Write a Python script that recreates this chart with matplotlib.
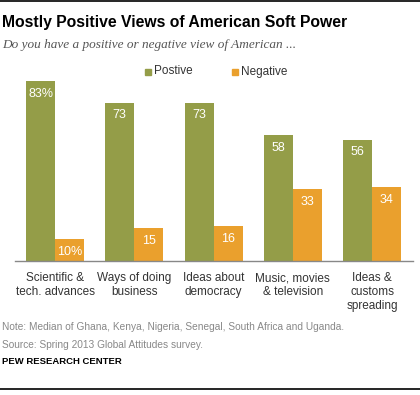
import numpy as np
import matplotlib
matplotlib.use("Agg")
from matplotlib import pyplot
from matplotlib.patches import Rectangle

categories = ["Scientific &\ntech. advances", "Ways of doing\nbusiness",
              "Ideas about\ndemocracy", "Music, movies\n& television",
              "Ideas &\ncustoms\nspreading"]
positive = [83, 73, 73, 58, 56]
negative = [10, 15, 16, 33, 34]
pos_labels = ["83%", "73", "73", "58", "56"]
neg_labels = ["10%", "15", "16", "33", "34"]

green = "#949D48"
orange = "#EAA02D"
W, H = 420, 395

pyplot.rcParams["font.family"] = ["Liberation Sans", "DejaVu Sans"]
fig = pyplot.figure(figsize=(W / 100, H / 100), dpi=100)

def px(x, y):
    return x / W, 1 - y / H

# plot area: baseline at y=261, value 83 at y=81
ax = fig.add_axes([15 / W, 1 - 261 / H, 398 / W, 180 / H])
xs = np.arange(len(categories))
bw = 0.366
ax.bar(xs - bw / 2, positive, bw, color=green)
ax.bar(xs + bw / 2, negative, bw, color=orange)
ax.set_ylim(0, 83)
ax.set_xlim(-0.505, 4.517)
for sp in ["top", "right", "left"]:
    ax.spines[sp].set_visible(False)
ax.spines["bottom"].set_color("#888888")
ax.spines["bottom"].set_linewidth(1)
ax.set_yticks([])
ax.set_xticks(xs)
ax.set_xticklabels(categories, fontsize=8.5, color="#333333", linespacing=1.2)
ax.tick_params(axis="x", length=0, pad=8)

for i in range(len(xs)):
    ax.text(xs[i] - bw / 2, positive[i] - 3, pos_labels[i], ha="center", va="top",
            color="white", fontsize=9)
    ax.text(xs[i] + bw / 2, negative[i] - 3, neg_labels[i], ha="center", va="top",
            color="white", fontsize=9)

# header
fig.add_artist(pyplot.Line2D([0, 1], [1 - 1 / H, 1 - 1 / H], color="black", lw=1.2))
fig.text(*px(2, 22), "Mostly Positive Views of American Soft Power", fontsize=11.3,
         fontweight="bold", va="center", ha="left")
fig.text(*px(2, 45), "Do you have a positive or negative view of American ...",
         fontsize=9.5, style="italic", family="Liberation Serif", color="#555555",
         va="center", ha="left")

# legend
for x0, col, lab in [(145, green, "Postive"), (232, orange, "Negative")]:
    fig.add_artist(Rectangle(px(x0, 75), 6 / W, 6 / H, color=col, transform=fig.transFigure))
    fig.text(*px(x0 + 9, 71.5), lab, fontsize=8.5, color="#333333", va="center", ha="left")

# footer
fig.text(*px(2, 327), "Note: Median of Ghana, Kenya, Nigeria, Senegal, South Africa and Uganda.",
         fontsize=7.3, color="#888888", va="center")
fig.text(*px(2, 345), "Source: Spring 2013 Global Attitudes survey.",
         fontsize=7.3, color="#888888", va="center")
fig.text(*px(2, 361), "PEW RESEARCH CENTER", fontsize=6.8, fontweight="bold",
         color="black", va="center")
fig.add_artist(pyplot.Line2D([0, 1], [1 - 389 / H, 1 - 389 / H], color="black", lw=1.2))

pyplot.savefig("out.png", dpi=100)
